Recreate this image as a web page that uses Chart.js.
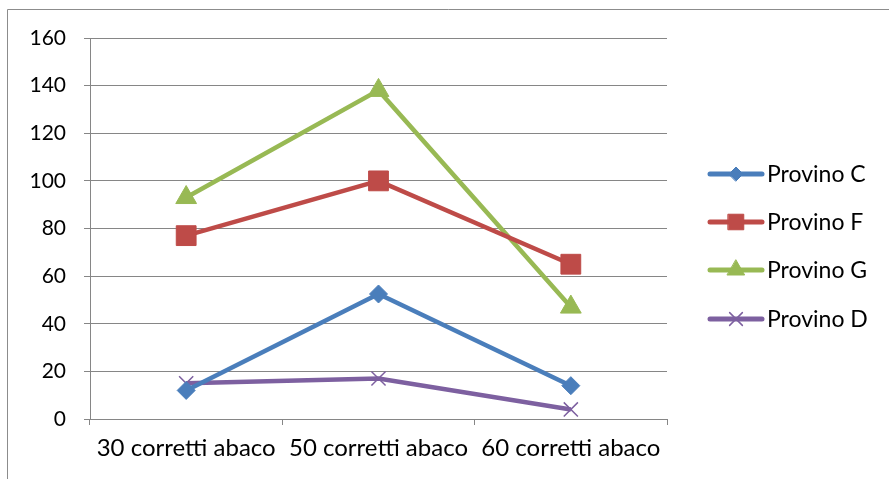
<!DOCTYPE html>
<html>
<head>
<meta charset="utf-8">
<script src="https://cdn.jsdelivr.net/npm/chart.js@4/dist/chart.umd.min.js"></script>
<style>
  html, body { margin: 0; padding: 0; background: #fff; }
  canvas { display: block; }
</style>
</head>
<body>
<canvas id="chart" width="889" height="479"></canvas>
<script>
const categories = ['30 corretti abaco', '50 corretti abaco', '60 corretti abaco'];
const seriesNames = ['Provino C', 'Provino F', 'Provino G', 'Provino D'];
const provinoC = [12, 52.5, 14];
const provinoF = [77, 100, 65];
const provinoG = [93, 138, 47];
const provinoD = [15, 17, 4];
const yMin = 0, yMax = 160, yStep = 20;

const colors = ['#4A7EBB', '#BE4B48', '#98B954', '#7D60A0'];
const styles = [
  { pointStyle: 'rectRot', r: 9, lr: 7 },
  { pointStyle: 'rect', r: 14, lr: 11 },
  { pointStyle: 'triangle', r: 12, lr: 10 },
  { pointStyle: 'crossRot', r: 10, lr: 9 }
];
const values = [provinoC, provinoF, provinoG, provinoD];
const FONT = 'Lato, "Open Sans", sans-serif';

// Excel-like legend: line with a marker in the middle
const sideLegend = {
  id: 'sideLegend',
  afterDraw(chart) {
    const ctx = chart.ctx;
    const rows = [174, 222, 270, 319];
    chart.data.datasets.forEach((ds, i) => {
      const y = rows[i];
      ctx.save();
      ctx.strokeStyle = ds.borderColor;
      ctx.fillStyle = ds.borderColor;
      ctx.lineWidth = 5;
      ctx.lineCap = 'round';
      ctx.beginPath();
      ctx.moveTo(710, y);
      ctx.lineTo(762, y);
      ctx.stroke();
      ctx.lineWidth = ds.pointStyle === 'crossRot' ? 1.5 : 1;
      Chart.helpers.drawPoint(ctx, {
        pointStyle: ds.pointStyle, radius: styles[i].lr, rotation: 0,
        borderWidth: ctx.lineWidth
      }, 736, y);
      ctx.fillStyle = '#000';
      ctx.font = '23px ' + FONT;
      ctx.textBaseline = 'middle';
      ctx.fillText(ds.label, 767, y + 1);
      ctx.restore();
    });
  }
};

// outer frame (top and left edges visible)
const frame = {
  id: 'frame',
  beforeDraw(chart) {
    const ctx = chart.ctx;
    ctx.save();
    ctx.strokeStyle = '#8c8c8c';
    ctx.lineWidth = 1;
    ctx.beginPath();
    ctx.moveTo(7.5, 479);
    ctx.lineTo(7.5, 9.5);
    ctx.lineTo(889, 9.5);
    ctx.stroke();
    ctx.restore();
  }
};

new Chart(document.getElementById('chart').getContext('2d'), {
  type: 'line',
  data: {
    labels: categories,
    datasets: values.map((v, i) => ({
      label: seriesNames[i],
      data: v,
      borderColor: colors[i],
      backgroundColor: colors[i],
      pointBackgroundColor: colors[i],
      pointBorderColor: colors[i],
      pointBorderWidth: i === 3 ? 1.5 : 1,
      borderWidth: 4.5,
      pointStyle: styles[i].pointStyle,
      pointRadius: styles[i].r,
      pointHoverRadius: styles[i].r,
      tension: 0,
      fill: false
    }))
  },
  options: {
    responsive: false,
    animation: false,
    devicePixelRatio: 1,
    layout: { padding: { top: 38, right: 222, left: 0, bottom: 0 } },
    plugins: {
      legend: { display: false },
      tooltip: { enabled: false }
    },
    scales: {
      x: {
        offset: true,
        grid: { offset: true, drawOnChartArea: false, drawTicks: true, tickLength: 6, color: '#868686' },
        border: { color: '#868686' },
        ticks: { autoSkip: false, maxRotation: 0, color: '#000', padding: 9, font: { family: FONT, size: 24 } },
        afterFit(s) { s.height = 60; }
      },
      y: {
        min: yMin, max: yMax,
        grid: { color: '#868686', tickLength: 6 },
        border: { color: '#868686' },
        ticks: { stepSize: yStep, color: '#000', padding: 18, font: { family: FONT, size: 21 } },
        afterFit(s) { s.width = 90; }
      }
    }
  },
  plugins: [frame, sideLegend]
});
</script>
</body>
</html>
